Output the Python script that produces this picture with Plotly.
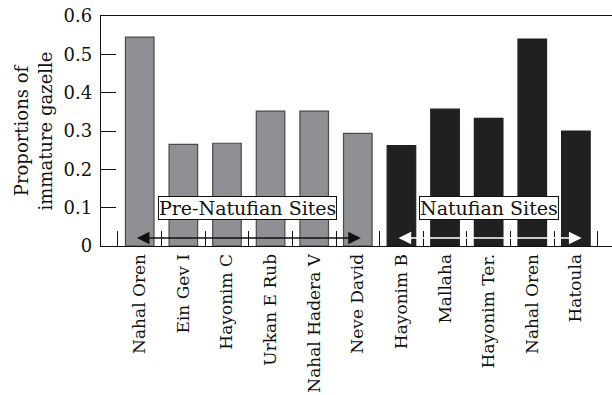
import plotly.graph_objects as go

# Site names along the x axis (pre-Natufian sites first, then Natufian sites)
sites = ["Nahal Oren", "Ein Gev I", "Hayonim C", "Urkan E Rub", "Nahal Hadera V",
         "Neve David", "Hayonim B", "Mallaha", "Hayonim Ter.", "Nahal Oren", "Hatoula"]
# Proportions of immature gazelle per site
proportions = [0.545, 0.265, 0.268, 0.352, 0.352, 0.294, 0.262, 0.357, 0.333, 0.540, 0.300]
# Period of each site
periods = ["pre"] * 6 + ["natufian"] * 5

# Group labels and the span of their arrows (in category index units)
group_labels = ["Pre-Natufian Sites", "Natufian Sites"]
group_centres = [2.48, 8.0]
group_spans = [(-0.1, 5.07), (5.9, 10.13)]

y_ticks = [0, 0.1, 0.2, 0.3, 0.4, 0.5, 0.6]

FONT = "DejaVu Serif"
INK = "#111"
GREY = "#8f9094"
BLACK = "#221f20"

x = list(range(len(sites)))
fills = [GREY if p == "pre" else BLACK for p in periods]
edges = ["#4a4a4a" if p == "pre" else BLACK for p in periods]

fig = go.Figure()
fig.add_trace(go.Bar(
    x=x, y=proportions,
    marker=dict(color=fills, line=dict(color=edges, width=1.2)),
    width=0.655,
    showlegend=False,
))

# Boundary tick marks between categories
boundaries = [i - 0.5 for i in range(len(sites) + 1)]

fig.update_layout(
    width=612, height=395,
    margin=dict(l=101, r=0, t=16, b=149),
    paper_bgcolor="white", plot_bgcolor="white",
    font=dict(family=FONT, size=17, color=INK),
    xaxis=dict(
        range=[-0.888, 10.828],
        tickmode="array", tickvals=x, ticktext=sites, tickangle=-90,
        ticks="", showgrid=False, zeroline=False,
        showline=True, linecolor=INK, linewidth=1.3, mirror=True,
        tickfont=dict(family=FONT, size=17, color=INK),
        minor=dict(tickvals=boundaries, ticks="inside", ticklen=15,
                   tickcolor=INK, tickwidth=1.3, showgrid=False),
    ),
    yaxis=dict(
        range=[0, 0.6],
        tickmode="array", tickvals=y_ticks, ticktext=[f"{v:g}" for v in y_ticks],
        ticks="inside", ticklen=15, tickcolor=INK, tickwidth=1.2,
        ticklabelstandoff=4,
        showgrid=False, zeroline=False,
        showline=True, linecolor=INK, linewidth=1.3,
        tickfont=dict(family=FONT, size=18, color=INK),
        title=dict(text="Proportions of<br>immature gazelle",
                   font=dict(family=FONT, size=18, color=INK), standoff=6),
    ),
    bargap=0.35,
)

# Double-headed arrows marking each group of sites
arrow_colors = [INK, "white"]
for (x0, x1), col in zip(group_spans, arrow_colors):
    fig.add_annotation(
        x=x1, y=0.021, ax=x0, ay=0.021,
        xref="x", yref="y", axref="x", ayref="y",
        text="", showarrow=True,
        arrowhead=2, startarrowhead=2, arrowside="end+start",
        arrowsize=1.8, startarrowsize=1.8, arrowwidth=1.4, arrowcolor=col,
    )

# Boxed group labels
for label, cx in zip(group_labels, group_centres):
    fig.add_annotation(
        x=cx, y=0.1, xref="x", yref="y", text=label, showarrow=False,
        font=dict(family=FONT, size=19, color=INK),
        bgcolor="white", bordercolor=INK, borderwidth=1, borderpad=0,
    )

fig.write_html("out.html")
